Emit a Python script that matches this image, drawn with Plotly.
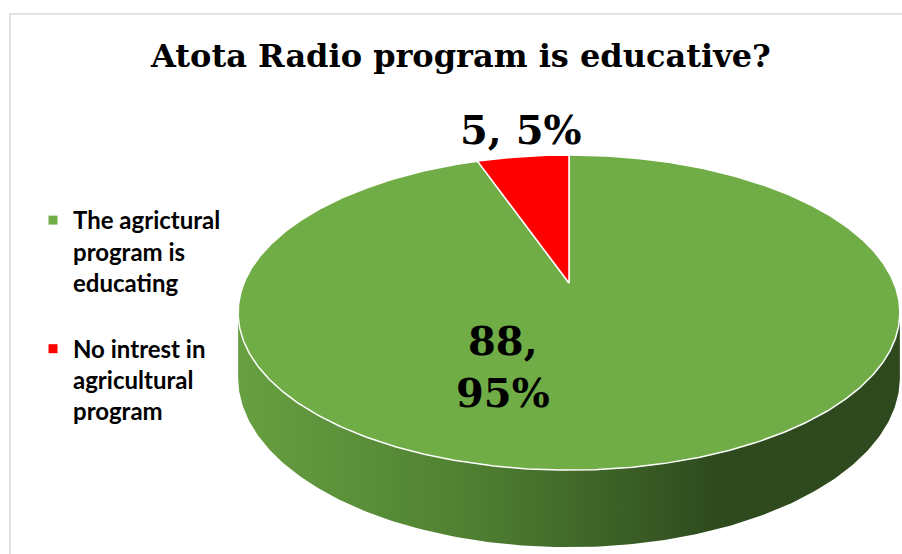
import numpy as np
import plotly.graph_objects as go

# ---- data ----
categories = ["The agrictural program is educating", "No intrest in agricultural program"]
legend_labels = ["The agrictural<br>program is<br>educating", "No intrest in<br>agricultural<br>program"]
values = [88, 5]
percent_labels = ["95%", "5%"]
title_text = "Atota Radio program is educative?"

# ---- style / geometry ----
W, H = 902, 554
CX, CY = 569.0, 283.0     # projected centre of the top face
F = 325.0                 # horizontal scale
SF = 152.0                # vertical (tilted) scale
K = 0.1876                # perspective strength
DEPTH = 62.6              # thickness of the pie
slice_colors = ["#70AD47", "#FF0000"]
side_scale = [[0.0, "#67A041"], [0.35, "#4F8032"], [0.72, "#2F4B1E"], [1.0, "#2E491D"]]
serif = "DejaVu Serif"


def proj(phi_deg, r=1.0, drop=0.0):
    phi = np.radians(phi_deg)
    X = r * np.sin(phi)
    Z = r * np.cos(phi)
    d = 1 + K * Z
    return CX + F * X / d, CY - (SF * Z - drop) / d


total = sum(values)
fracs = [v / total for v in values]
starts = np.concatenate([[0.0], np.cumsum(fracs)[:-1]]) * 360
ends = np.cumsum(fracs) * 360

fig = go.Figure()

# side wall (only the front half of the rim is visible)
phi_r = np.degrees(np.arccos(-K))
phi_l = 360 - phi_r
arc = np.linspace(phi_r, phi_l, 200)
tx, ty = proj(arc)
bx, by = proj(arc[::-1], drop=DEPTH)
fig.add_trace(go.Scatter(
    x=np.concatenate([tx, bx]), y=np.concatenate([ty, by]),
    fill="toself", mode="lines", line=dict(width=0, color="rgba(0,0,0,0)"),
    fillgradient=dict(type="horizontal", colorscale=side_scale),
    showlegend=False, hoverinfo="skip"))

# top face slices
for i, (a0, a1) in enumerate(zip(starts, ends)):
    a = np.linspace(a0, a1, max(int((a1 - a0) * 2), 8))
    ax_, ay_ = proj(a)
    xs = np.concatenate([[CX], ax_, [CX]])
    ys = np.concatenate([[CY], ay_, [CY]])
    fig.add_trace(go.Scatter(
        x=xs, y=ys, fill="toself", fillcolor=slice_colors[i], mode="lines",
        line=dict(color="white", width=1.5), showlegend=False,
        hoverinfo="skip"))

# legend entries
for i, lab in enumerate(legend_labels):
    fig.add_trace(go.Scatter(
        x=[None], y=[None], mode="markers", name=lab, legendgroup=str(i),
        marker=dict(symbol="square", size=9, color=slice_colors[i])))

# data labels
fig.add_annotation(x=521, y=129, xref="x", yref="y",
                   text=f"{values[1]}, {percent_labels[1]}", showarrow=False,
                   font=dict(family=serif, size=40, color="black", weight="bold"))
fig.add_annotation(x=503, y=366, xref="x", yref="y",
                   text=f"{values[0]},<br>{percent_labels[0]}", showarrow=False,
                   font=dict(family=serif, size=40, color="black", weight="bold"))

# chart border
fig.add_shape(type="rect", xref="x", yref="y", x0=10, y0=14, x1=W + 5, y1=H + 5,
              line=dict(color="#D9D9D9", width=1.5), layer="below")

fig.update_layout(
    width=W, height=H,
    margin=dict(l=0, r=0, t=0, b=0),
    paper_bgcolor="white", plot_bgcolor="white",
    title=dict(text=title_text, x=0.511, xanchor="center", y=1 - 56 / H, yanchor="middle",
               font=dict(family=serif, size=32, color="black", weight="bold")),
    xaxis=dict(range=[0, W], visible=False, fixedrange=True),
    yaxis=dict(range=[H, 0], visible=False, fixedrange=True),
    legend=dict(x=33 / W, xanchor="left", y=1 - 198 / H, yanchor="top",
                valign="top", tracegroupgap=32, bgcolor="rgba(0,0,0,0)",
                font=dict(family="Lato", size=24, color="black", weight="bold")),
    showlegend=True,
)

fig.write_html("out.html")
